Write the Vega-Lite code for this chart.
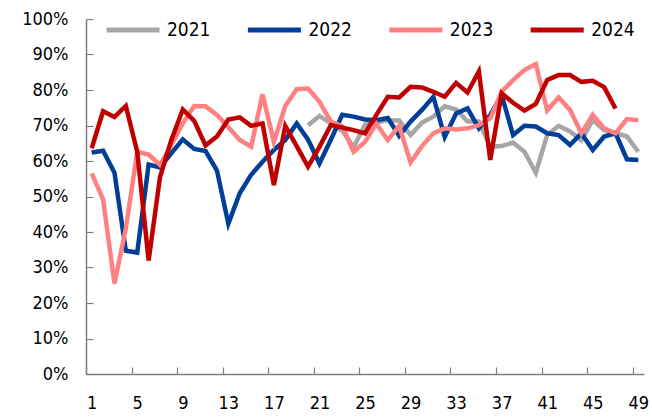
{
  "$schema": "https://vega.github.io/schema/vega-lite/v6.json",
  "width": 558,
  "height": 355,
  "autosize": {"type": "none"},
  "padding": {"left": 86, "top": 19, "right": 8, "bottom": 43},
  "background": "white",
  "config": {
    "view": {"stroke": null},
    "font": "DejaVu Sans Condensed, DejaVu Sans",
    "axis": {
      "grid": false,
      "domainColor": "#808080",
      "domainWidth": 1.5,
      "tickColor": "#808080",
      "tickWidth": 1.2,
      "labelColor": "#000000",
      "labelFontSize": 18,
      "labelFont": "DejaVu Sans Condensed, DejaVu Sans",
      "title": null
    }
  },
  "data": {
    "values": [
      {"year": "2021", "week": 20, "rate": 70.1},
      {"year": "2021", "week": 21, "rate": 72.7},
      {"year": "2021", "week": 22, "rate": 70.6},
      {"year": "2021", "week": 23, "rate": 68.5},
      {"year": "2021", "week": 24, "rate": 63.9},
      {"year": "2021", "week": 25, "rate": 70.2},
      {"year": "2021", "week": 26, "rate": 70.8},
      {"year": "2021", "week": 27, "rate": 71.5},
      {"year": "2021", "week": 28, "rate": 71.4},
      {"year": "2021", "week": 29, "rate": 67.3},
      {"year": "2021", "week": 30, "rate": 70.8},
      {"year": "2021", "week": 31, "rate": 72.5},
      {"year": "2021", "week": 32, "rate": 75.4},
      {"year": "2021", "week": 33, "rate": 74.5},
      {"year": "2021", "week": 34, "rate": 71.1},
      {"year": "2021", "week": 35, "rate": 71.1},
      {"year": "2021", "week": 36, "rate": 64.0},
      {"year": "2021", "week": 37, "rate": 64.2},
      {"year": "2021", "week": 38, "rate": 65.2},
      {"year": "2021", "week": 39, "rate": 62.6},
      {"year": "2021", "week": 40, "rate": 56.7},
      {"year": "2021", "week": 41, "rate": 67.3},
      {"year": "2021", "week": 42, "rate": 69.9},
      {"year": "2021", "week": 43, "rate": 68.3},
      {"year": "2021", "week": 44, "rate": 65.9},
      {"year": "2021", "week": 45, "rate": 71.5},
      {"year": "2021", "week": 46, "rate": 68.7},
      {"year": "2021", "week": 47, "rate": 68.0},
      {"year": "2021", "week": 48, "rate": 66.9},
      {"year": "2021", "week": 49, "rate": 62.6},

      {"year": "2022", "week": 1, "rate": 62.4},
      {"year": "2022", "week": 2, "rate": 62.9},
      {"year": "2022", "week": 3, "rate": 56.7},
      {"year": "2022", "week": 4, "rate": 34.7},
      {"year": "2022", "week": 5, "rate": 34.2},
      {"year": "2022", "week": 6, "rate": 59.0},
      {"year": "2022", "week": 7, "rate": 58.2},
      {"year": "2022", "week": 8, "rate": 62.2},
      {"year": "2022", "week": 9, "rate": 66.1},
      {"year": "2022", "week": 10, "rate": 63.4},
      {"year": "2022", "week": 11, "rate": 62.8},
      {"year": "2022", "week": 12, "rate": 57.3},
      {"year": "2022", "week": 13, "rate": 42.3},
      {"year": "2022", "week": 14, "rate": 50.9},
      {"year": "2022", "week": 15, "rate": 56.1},
      {"year": "2022", "week": 16, "rate": 59.8},
      {"year": "2022", "week": 17, "rate": 63.1},
      {"year": "2022", "week": 18, "rate": 65.9},
      {"year": "2022", "week": 19, "rate": 70.6},
      {"year": "2022", "week": 20, "rate": 66.0},
      {"year": "2022", "week": 21, "rate": 59.3},
      {"year": "2022", "week": 22, "rate": 66.0},
      {"year": "2022", "week": 23, "rate": 73.0},
      {"year": "2022", "week": 24, "rate": 72.5},
      {"year": "2022", "week": 25, "rate": 71.7},
      {"year": "2022", "week": 26, "rate": 71.5},
      {"year": "2022", "week": 27, "rate": 72.1},
      {"year": "2022", "week": 28, "rate": 67.1},
      {"year": "2022", "week": 29, "rate": 71.1},
      {"year": "2022", "week": 30, "rate": 74.4},
      {"year": "2022", "week": 31, "rate": 78.1},
      {"year": "2022", "week": 32, "rate": 66.8},
      {"year": "2022", "week": 33, "rate": 73.4},
      {"year": "2022", "week": 34, "rate": 74.8},
      {"year": "2022", "week": 35, "rate": 69.2},
      {"year": "2022", "week": 36, "rate": 73.0},
      {"year": "2022", "week": 37, "rate": 78.6},
      {"year": "2022", "week": 38, "rate": 67.3},
      {"year": "2022", "week": 39, "rate": 69.9},
      {"year": "2022", "week": 40, "rate": 69.7},
      {"year": "2022", "week": 41, "rate": 67.8},
      {"year": "2022", "week": 42, "rate": 67.3},
      {"year": "2022", "week": 43, "rate": 64.5},
      {"year": "2022", "week": 44, "rate": 67.8},
      {"year": "2022", "week": 45, "rate": 63.1},
      {"year": "2022", "week": 46, "rate": 66.9},
      {"year": "2022", "week": 47, "rate": 67.8},
      {"year": "2022", "week": 48, "rate": 60.5},
      {"year": "2022", "week": 49, "rate": 60.3},

      {"year": "2023", "week": 1, "rate": 56.5},
      {"year": "2023", "week": 2, "rate": 49.2},
      {"year": "2023", "week": 3, "rate": 25.5},
      {"year": "2023", "week": 4, "rate": 41.0},
      {"year": "2023", "week": 5, "rate": 62.6},
      {"year": "2023", "week": 6, "rate": 61.8},
      {"year": "2023", "week": 7, "rate": 58.9},
      {"year": "2023", "week": 8, "rate": 64.5},
      {"year": "2023", "week": 9, "rate": 70.6},
      {"year": "2023", "week": 10, "rate": 75.5},
      {"year": "2023", "week": 11, "rate": 75.4},
      {"year": "2023", "week": 12, "rate": 73.0},
      {"year": "2023", "week": 13, "rate": 69.5},
      {"year": "2023", "week": 14, "rate": 65.9},
      {"year": "2023", "week": 15, "rate": 64.0},
      {"year": "2023", "week": 16, "rate": 78.8},
      {"year": "2023", "week": 17, "rate": 65.4},
      {"year": "2023", "week": 18, "rate": 75.5},
      {"year": "2023", "week": 19, "rate": 80.2},
      {"year": "2023", "week": 20, "rate": 80.4},
      {"year": "2023", "week": 21, "rate": 76.7},
      {"year": "2023", "week": 22, "rate": 71.1},
      {"year": "2023", "week": 23, "rate": 69.8},
      {"year": "2023", "week": 24, "rate": 62.6},
      {"year": "2023", "week": 25, "rate": 65.4},
      {"year": "2023", "week": 26, "rate": 70.5},
      {"year": "2023", "week": 27, "rate": 65.9},
      {"year": "2023", "week": 28, "rate": 69.9},
      {"year": "2023", "week": 29, "rate": 59.6},
      {"year": "2023", "week": 30, "rate": 64.2},
      {"year": "2023", "week": 31, "rate": 67.8},
      {"year": "2023", "week": 32, "rate": 69.2},
      {"year": "2023", "week": 33, "rate": 68.9},
      {"year": "2023", "week": 34, "rate": 69.2},
      {"year": "2023", "week": 35, "rate": 70.1},
      {"year": "2023", "week": 36, "rate": 72.0},
      {"year": "2023", "week": 37, "rate": 79.5},
      {"year": "2023", "week": 38, "rate": 82.8},
      {"year": "2023", "week": 39, "rate": 85.6},
      {"year": "2023", "week": 40, "rate": 87.3},
      {"year": "2023", "week": 41, "rate": 74.2},
      {"year": "2023", "week": 42, "rate": 77.9},
      {"year": "2023", "week": 43, "rate": 74.4},
      {"year": "2023", "week": 44, "rate": 67.8},
      {"year": "2023", "week": 45, "rate": 73.0},
      {"year": "2023", "week": 46, "rate": 69.2},
      {"year": "2023", "week": 47, "rate": 67.8},
      {"year": "2023", "week": 48, "rate": 71.8},
      {"year": "2023", "week": 49, "rate": 71.5},

      {"year": "2024", "week": 1, "rate": 63.6},
      {"year": "2024", "week": 2, "rate": 74.0},
      {"year": "2024", "week": 3, "rate": 72.4},
      {"year": "2024", "week": 4, "rate": 75.5},
      {"year": "2024", "week": 5, "rate": 62.6},
      {"year": "2024", "week": 6, "rate": 32.0},
      {"year": "2024", "week": 7, "rate": 55.5},
      {"year": "2024", "week": 8, "rate": 66.0},
      {"year": "2024", "week": 9, "rate": 74.5},
      {"year": "2024", "week": 10, "rate": 71.3},
      {"year": "2024", "week": 11, "rate": 64.4},
      {"year": "2024", "week": 12, "rate": 66.9},
      {"year": "2024", "week": 13, "rate": 71.7},
      {"year": "2024", "week": 14, "rate": 72.3},
      {"year": "2024", "week": 15, "rate": 69.9},
      {"year": "2024", "week": 16, "rate": 70.6},
      {"year": "2024", "week": 17, "rate": 53.2},
      {"year": "2024", "week": 18, "rate": 69.9},
      {"year": "2024", "week": 19, "rate": 64.2},
      {"year": "2024", "week": 20, "rate": 58.4},
      {"year": "2024", "week": 21, "rate": 64.0},
      {"year": "2024", "week": 22, "rate": 70.1},
      {"year": "2024", "week": 23, "rate": 69.4},
      {"year": "2024", "week": 24, "rate": 68.7},
      {"year": "2024", "week": 25, "rate": 67.8},
      {"year": "2024", "week": 26, "rate": 73.0},
      {"year": "2024", "week": 27, "rate": 78.1},
      {"year": "2024", "week": 28, "rate": 77.9},
      {"year": "2024", "week": 29, "rate": 80.9},
      {"year": "2024", "week": 30, "rate": 80.7},
      {"year": "2024", "week": 31, "rate": 79.5},
      {"year": "2024", "week": 32, "rate": 78.1},
      {"year": "2024", "week": 33, "rate": 82.0},
      {"year": "2024", "week": 34, "rate": 79.3},
      {"year": "2024", "week": 35, "rate": 85.2},
      {"year": "2024", "week": 36, "rate": 60.3},
      {"year": "2024", "week": 37, "rate": 79.1},
      {"year": "2024", "week": 38, "rate": 76.4},
      {"year": "2024", "week": 39, "rate": 74.2},
      {"year": "2024", "week": 40, "rate": 76.1},
      {"year": "2024", "week": 41, "rate": 82.8},
      {"year": "2024", "week": 42, "rate": 84.2},
      {"year": "2024", "week": 43, "rate": 84.2},
      {"year": "2024", "week": 44, "rate": 82.3},
      {"year": "2024", "week": 45, "rate": 82.6},
      {"year": "2024", "week": 46, "rate": 80.8},
      {"year": "2024", "week": 47, "rate": 74.8}
    ]
  },
  "mark": {"type": "line", "strokeWidth": 4.5, "strokeJoin": "miter", "strokeCap": "butt"},
  "encoding": {
    "x": {
      "field": "week",
      "type": "quantitative",
      "scale": {"domain": [0.5, 49.5], "nice": false, "zero": false},
      "axis": {
        "values": [1, 5, 9, 13, 17, 21, 25, 29, 33, 37, 41, 45, 49],
        "tickSize": -7,
        "tickOffset": -5.7,
        "labelOffset": 5.7,
        "labelPadding": 27,
        "labelFlush": false,
        "labelOverlap": false
      }
    },
    "y": {
      "field": "rate",
      "type": "quantitative",
      "scale": {"domain": [0, 100], "nice": false},
      "axis": {
        "values": [0, 10, 20, 30, 40, 50, 60, 70, 80, 90, 100],
        "labelExpr": "datum.value + '%'",
        "tickSize": -7,
        "labelPadding": 25,
        "labelOverlap": false
      }
    },
    "color": {
      "field": "year",
      "type": "nominal",
      "scale": {
        "domain": ["2021", "2022", "2023", "2024"],
        "range": ["#A6A6A6", "#003F98", "#FF8080", "#C00000"]
      },
      "legend": {
        "orient": "none",
        "legendX": 18,
        "legendY": -18,
        "direction": "horizontal",
        "title": null,
        "symbolType": "stroke",
        "symbolSize": 2809,
        "symbolStrokeWidth": 5,
        "labelFontSize": 19,
        "labelFont": "DejaVu Sans Condensed, DejaVu Sans",
        "labelColor": "#000000",
        "labelOffset": 5,
        "columnPadding": 26.4
      }
    }
  }
}
